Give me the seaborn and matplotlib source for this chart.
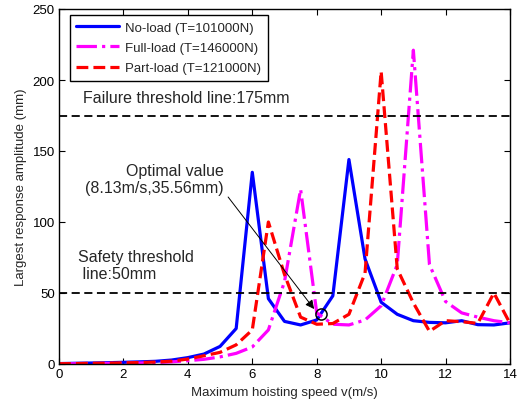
import matplotlib
matplotlib.use("Agg")
import matplotlib.pyplot as plt
import seaborn as sns
import pandas as pd

speed = [0, 0.5, 1, 1.5, 2, 2.5, 3, 3.5, 4, 4.5, 5, 5.5, 6, 6.5, 7, 7.5, 8, 8.5,
         9, 9.5, 10, 10.5, 11, 11.5, 12, 12.5, 13, 13.5, 14]
no_load = [0.3, 0.5, 0.7, 0.9, 1.2, 1.5, 1.9, 2.8, 4.5, 7.0, 12.4, 25, 135, 46, 30,
           27.5, 31, 48, 144, 74, 43.5, 35, 30.5, 29.3, 29, 30.5, 27.7, 27.5, 29]
full_load = [0.1, 0.2, 0.3, 0.4, 0.5, 0.7, 1.0, 1.5, 2.3, 3.3, 5.0, 7.5, 12, 24, 58,
             123, 36, 28, 27.5, 31, 41, 70, 221, 70, 44, 36, 33, 30.5, 29]
part_load = [0.2, 0.3, 0.5, 0.6, 0.8, 1.0, 1.4, 2.0, 3.5, 5.8, 8.2, 13.5, 24, 100, 63,
             33, 28, 28.5, 35, 64, 206, 67, 43, 23, 30.5, 29.8, 28.6, 50, 28.6]
labels = ["No-load (T=101000N)", "Full-load (T=146000N)", "Part-load (T=121000N)"]
optimal = (8.13, 35.56)
failure_thr = 175
safety_thr = 50

sns.set_style("ticks")
plt.rcParams['font.family'] = ['Liberation Sans', 'DejaVu Sans']

fig = plt.figure(figsize=(5.2, 4.06), dpi=100)
ax = fig.add_axes([59/520, 41/406, 451/520, 355/406])

df = pd.DataFrame({"speed": speed, "no": no_load, "full": full_load, "part": part_load})
sns.lineplot(data=df, x="speed", y="no", ax=ax, color="#0000FF", lw=2.3,
             linestyle="-", label=labels[0])
sns.lineplot(data=df, x="speed", y="full", ax=ax, color="#FF00FF", lw=2.3,
             linestyle="-.", label=labels[1])
sns.lineplot(data=df, x="speed", y="part", ax=ax, color="#FF0000", lw=2.3,
             linestyle="--", label=labels[2])

ax.axhline(failure_thr, color="k", lw=1.3, linestyle=(0, (4.5, 2.5)))
ax.axhline(safety_thr, color="k", lw=1.3, linestyle=(0, (4.5, 2.5)))

ax.plot(optimal[0], optimal[1], "o", mfc="none", mec="k", ms=8, mew=1.1)
ax.annotate("", xy=(7.92, 38.7), xytext=(5.25, 117.6),
            arrowprops=dict(arrowstyle="-|>", color="k", lw=0.7, mutation_scale=13,
                            shrinkA=0, shrinkB=0))

ax.text(0.745, 188, "Failure threshold line:175mm", fontsize=11.5, ha="left", va="center")
ax.text(5.12, 130.3, "Optimal value\n(8.13m/s,35.56mm)", fontsize=11.5,
        ha="right", va="center", multialignment="right")
ax.text(0.59, 69.7, "Safety threshold\n line:50mm", fontsize=11.5,
        ha="left", va="center", multialignment="left")

ax.set_xlim(0, 14)
ax.set_ylim(0, 250)
ax.set_xticks(range(0, 15, 2))
ax.set_yticks(range(0, 251, 50))
ax.tick_params(direction="in", top=True, right=True, length=4, width=0.8,
               labelsize=9.5, colors="k", pad=3)
for s in ax.spines.values():
    s.set_visible(True)
    s.set_color("k")
    s.set_linewidth(1.0)

ax.set_xlabel("Maximum hoisting speed v(m/s)", fontsize=9.5, labelpad=4)
ax.set_ylabel("Largest response amplitude (mm)", fontsize=9.5, labelpad=4)

leg = ax.legend(loc="upper left", bbox_to_anchor=(0.024, 0.983), borderaxespad=0,
                fontsize=9.5, handlelength=3.2, frameon=True, fancybox=False,
                edgecolor="k", framealpha=1, borderpad=0.5, labelspacing=0.6,
                handletextpad=0.5)
leg.get_frame().set_linewidth(1.0)

fig.savefig("out.png", dpi=100, facecolor="white")
